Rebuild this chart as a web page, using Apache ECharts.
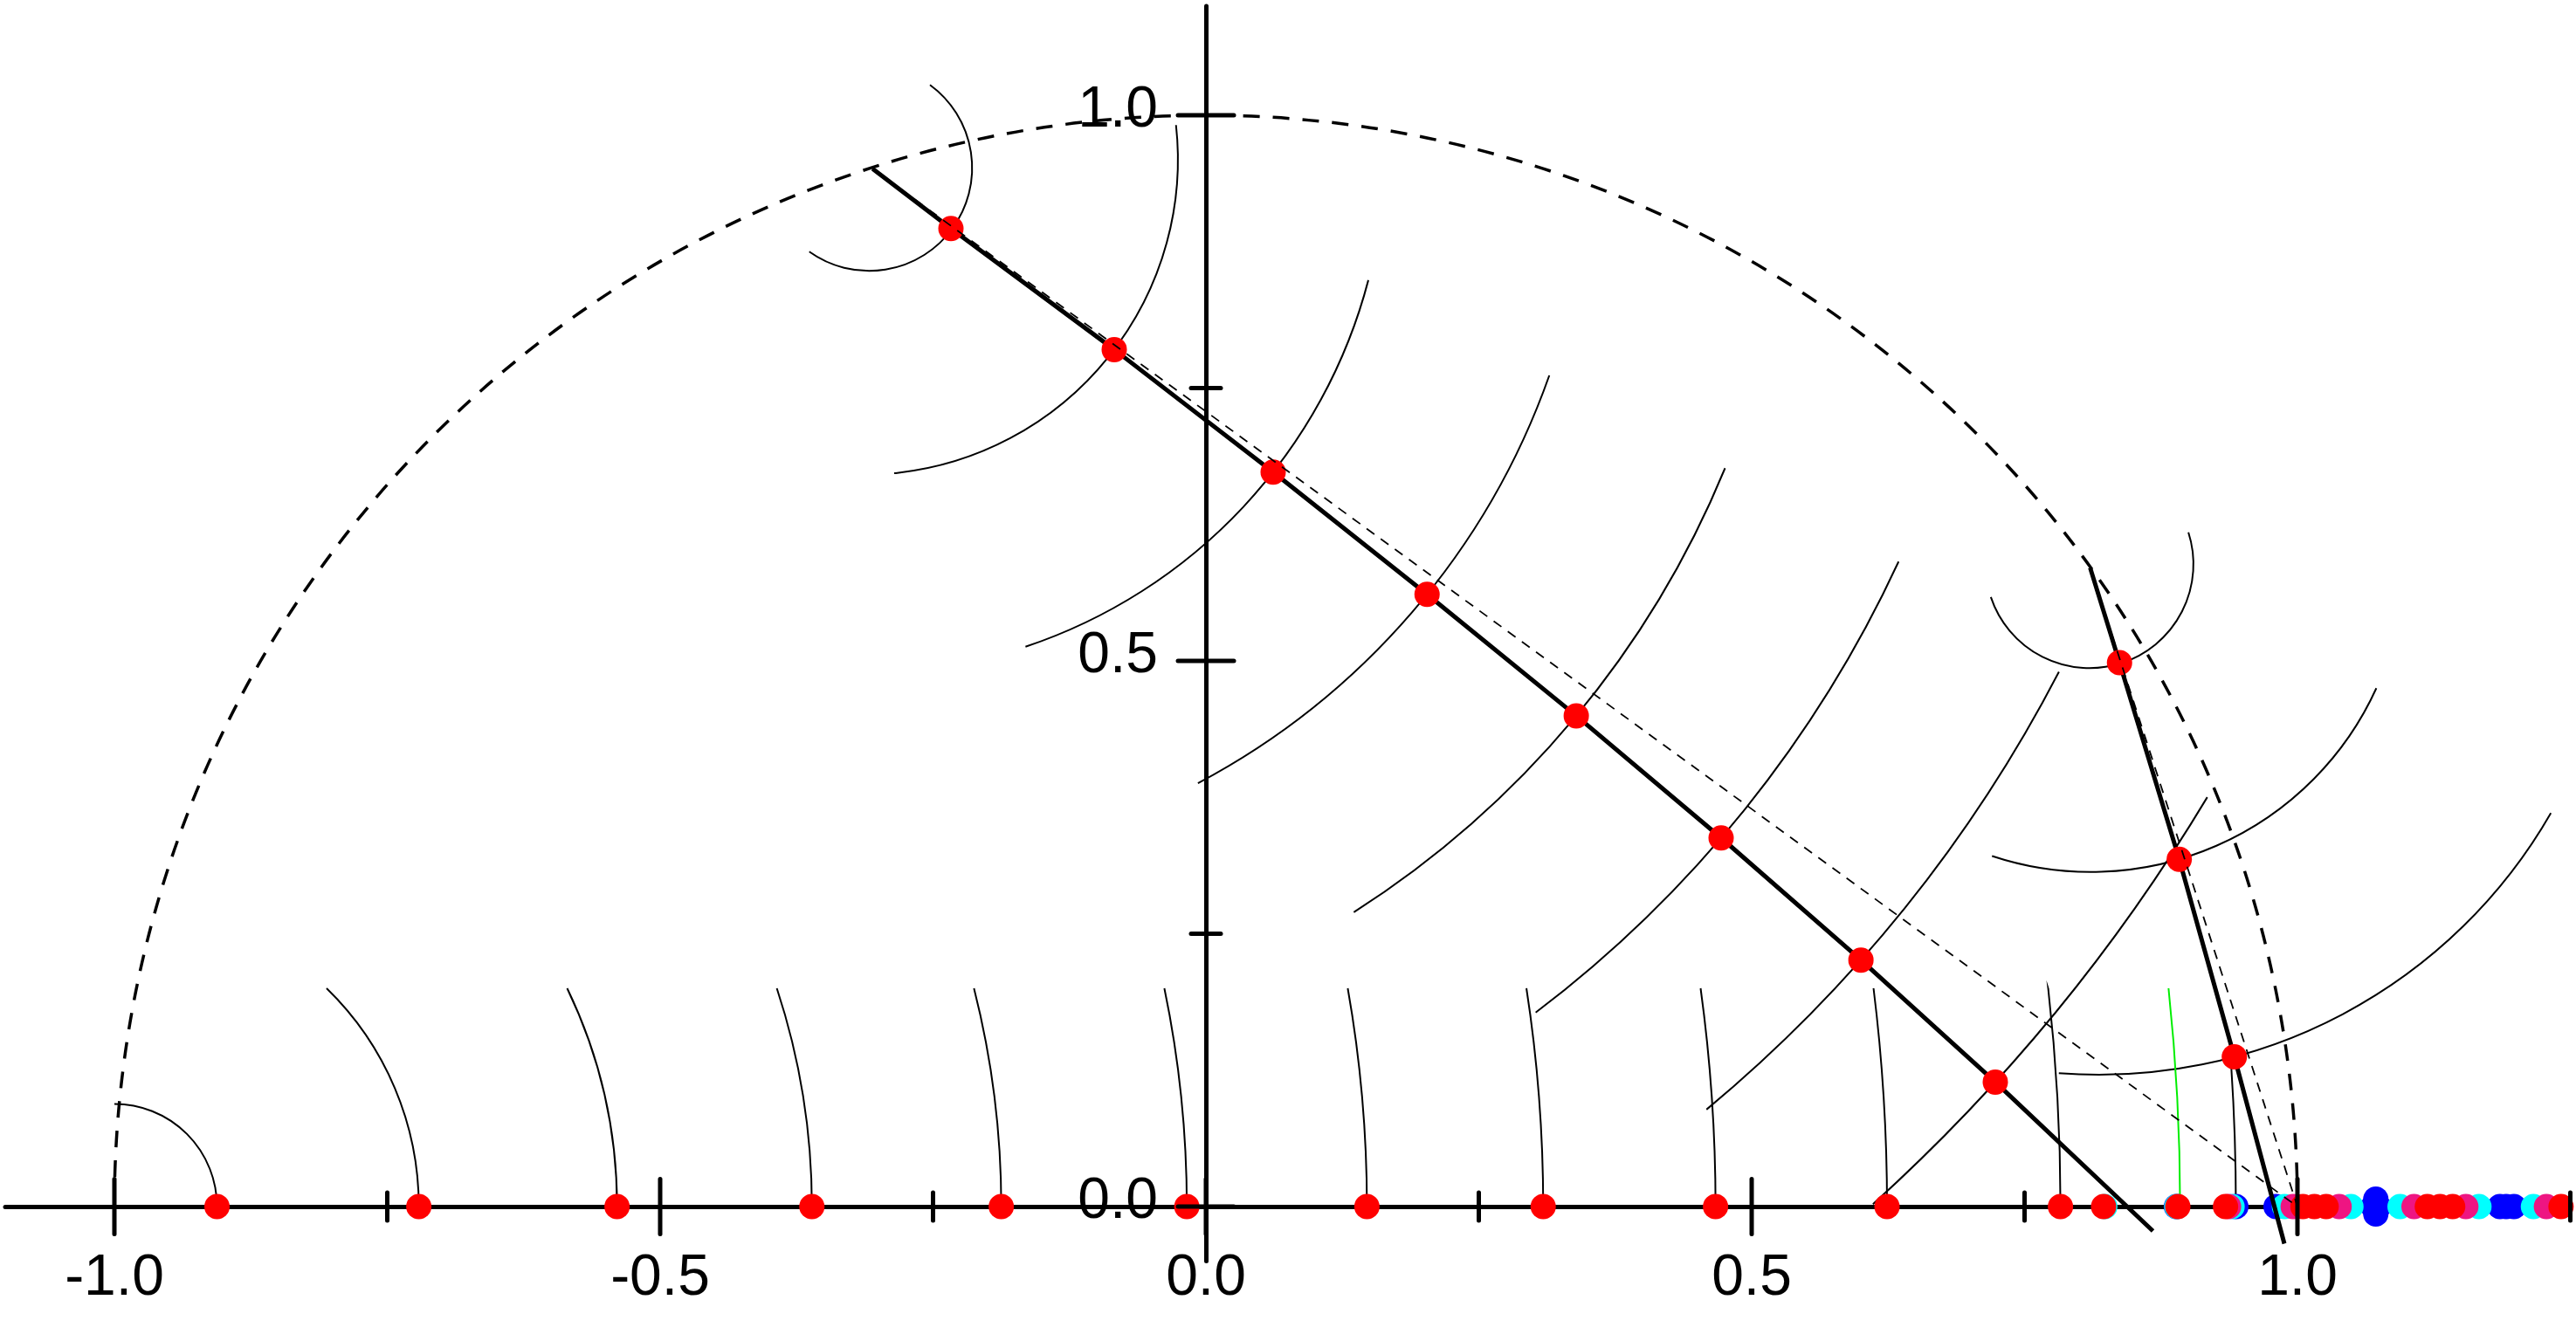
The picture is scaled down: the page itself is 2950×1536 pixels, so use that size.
<!DOCTYPE html>
<html>
<head>
<meta charset="utf-8">
<script src="https://cdn.jsdelivr.net/npm/echarts/dist/echarts.min.js"></script>
<style>
html,body{margin:0;padding:0;background:#ffffff;}
#chart{width:2950px;height:1536px;}
</style>
</head>
<body>
<div id="chart"></div>
<script>
// ---------- axis ticks and labels ----------
const xLabelValues = [-1.0, -0.5, 0.0, 0.5, 1.0];
const yLabelValues = [0.0, 0.5, 1.0];
const xMajorTicks = [-1.0, -0.5, 0.0, 0.5, 1.0];
const xMinorTicks = [-0.75, -0.25, 0.25, 0.75, 1.25];
const yMajorTicks = [0.0, 0.5, 1.0];
const yMinorTicks = [0.25, 0.75];

// ---------- unit circle ----------
const unitCircleRadius = [1.0];

// ---------- thick path A (start on circle, red points, end) ----------
const pathAX = [-0.3054, -0.2336, -0.0840, 0.0616, 0.2026, 0.3393, 0.4720, 0.6001, 0.7232, 0.8676];
const pathAY = [0.9510, 0.8962, 0.7853, 0.6730, 0.5610, 0.4497, 0.3378, 0.2259, 0.1141, -0.0224];
// ---------- thick path B ----------
const pathBX = [0.8101, 0.8370, 0.8917, 0.9422, 0.9880];
const pathBY = [0.5853, 0.4984, 0.3182, 0.1372, -0.0340];
// chords end point
const chordEnd = [1.0, 0.0];

// ---------- arcs around path A (start, middle, end read points) ----------
const arcAStartX = [-0.2528, -0.0274, 0.1488, 0.3146, 0.4756, 0.6346, 0.7815, 0.9174];
const arcAStartY = [1.0278, 0.9910, 0.8489, 0.7616, 0.6766, 0.5910, 0.4900, 0.3751];
const arcAMidX   = [-0.2142, -0.0840, 0.0616, 0.2026, 0.3393, 0.4720, 0.6001, 0.7232];
const arcAMidY   = [0.9536, 0.7853, 0.6730, 0.5610, 0.4497, 0.3378, 0.2259, 0.1141];
const arcAEndX   = [-0.3634, -0.2856, -0.1653, -0.0073, 0.1355, 0.3021, 0.4586, 0.6111];
const arcAEndY   = [0.8750, 0.6720, 0.5130, 0.3879, 0.2697, 0.1778, 0.0889, 0.0022];

// ---------- arcs around path B ----------
const arcBStartX = [0.7191, 0.7202, 0.7814];
const arcBStartY = [0.5585, 0.3212, 0.1222];
const arcBMidX   = [0.8121, 0.8917, 0.9422];
const arcBMidY   = [0.4934, 0.3182, 0.1372];
const arcBEndX   = [0.9001, 1.0723, 1.2322];
const arcBEndY   = [0.6178, 0.4750, 0.3606];

// ---------- arcs rising from axis points (centre at -1,0) ----------
const axisArcCenter = [-1.0, 0.0];
const axisArcX   = [-0.906, -0.7211, -0.5395, -0.361, -0.1875, -0.0175, 0.1475, 0.309, 0.4669, 0.624, 0.7829, 0.9436];
const axisArcTop = [0.2, 0.2, 0.2, 0.2, 0.2, 0.2, 0.2, 0.2, 0.2, 0.2, 0.2, 0.128];
const greenArcX   = [0.8925];
const greenArcTop = [0.2];

// ---------- points on the x axis ----------
const redAxisX  = [-0.906, -0.7211, -0.5395, -0.361, -0.1875, -0.0175, 0.1475, 0.309, 0.4669, 0.624, 0.7829, 0.8224, 0.8904, 0.9341, 1.005, 1.0155, 1.0263, 1.119, 1.1306, 1.1422, 1.2415];
const pinkAxisX = [0.9369, 0.9961, 1.0382, 1.1068, 1.1543, 1.2281];
const cyanAxisX = [0.8235, 0.8895, 0.9401, 0.9881, 1.049, 1.094, 1.1663, 1.2162];
const blueAxisX = [0.8891, 0.9436, 0.9804, 1.0718, 1.0718, 1.0694, 1.0742, 1.1855, 1.1912, 1.1983];
const blueAxisY = [0, 0, 0, 0.0068, -0.0068, 0, 0, 0, 0, 0];

const RED = '#ff0000', PINK = '#ee1582', CYAN = '#00ffff', BLUE = '#0000ff', GREEN = '#00ee00';
const FONT = "'Liberation Sans', Arial, sans-serif";

const chart = echarts.init(document.getElementById('chart'), null, {renderer: 'canvas', width: 2950, height: 1536});

function pairs(xs, ys) { return xs.map((v, i) => [v, ys[i]]); }

function arc3Series(sx, sy, mx, my, ex, ey, color, width, z) {
  return {
    type: 'custom', coordinateSystem: 'cartesian2d', silent: true, z: z,
    clip: false,
    data: sx.map((v, i) => [v, sy[i], mx[i], my[i], ex[i], ey[i]]),
    encode: {x: 0, y: 1},
    renderItem: function (params, api) {
      const p1 = api.coord([api.value(0), api.value(1)]);
      const p2 = api.coord([api.value(2), api.value(3)]);
      const p3 = api.coord([api.value(4), api.value(5)]);
      const ax = p1[0], ay = p1[1], bx = p2[0], by = p2[1], cx = p3[0], cy = p3[1];
      const d = 2 * (ax * (by - cy) + bx * (cy - ay) + cx * (ay - by));
      const a2s = ax * ax + ay * ay, b2s = bx * bx + by * by, c2s = cx * cx + cy * cy;
      const ux = (a2s * (by - cy) + b2s * (cy - ay) + c2s * (ay - by)) / d;
      const uy = (a2s * (cx - bx) + b2s * (ax - cx) + c2s * (bx - ax)) / d;
      const r = Math.hypot(ax - ux, ay - uy);
      const TAU = Math.PI * 2;
      const mod = v => ((v % TAU) + TAU) % TAU;
      const a1 = Math.atan2(ay - uy, ax - ux);
      const am = Math.atan2(by - uy, bx - ux);
      const a3 = Math.atan2(cy - uy, cx - ux);
      const d13 = mod(a3 - a1), d12 = mod(am - a1);
      let s, e;
      if (d12 < d13) { s = a1; e = a1 + d13; } else { s = a3; e = a3 + (TAU - d13); }
      return {
        type: 'arc',
        shape: {cx: ux, cy: uy, r: r, startAngle: s, endAngle: e, clockwise: true},
        style: {stroke: color, fill: 'none', lineWidth: width}
      };
    }
  };
}

function axisArcSeries(xs, tops, color, z) {
  return {
    type: 'custom', coordinateSystem: 'cartesian2d', silent: true, z: z, clip: false,
    data: xs.map((v, i) => [v, tops[i]]),
    encode: {x: 0, y: 1},
    renderItem: function (params, api) {
      const c = api.coord(axisArcCenter);
      const p = api.coord([api.value(0), 0]);
      const t = api.coord([api.value(0), api.value(1)]);
      const r = p[0] - c[0];
      const h = c[1] - t[1];
      const ang = Math.asin(Math.min(1, h / r));
      return {
        type: 'arc',
        shape: {cx: c[0], cy: c[1], r: r, startAngle: -ang, endAngle: 0, clockwise: true},
        style: {stroke: color, fill: 'none', lineWidth: 2}
      };
    }
  };
}

function tickSeries(values, isX, half) {
  return {
    type: 'custom', coordinateSystem: 'cartesian2d', silent: true, z: 8, clip: false,
    data: values.map(v => isX ? [v, 0] : [0, v]),
    encode: {x: 0, y: 1},
    renderItem: function (params, api) {
      const p = api.coord([api.value(0), api.value(1)]);
      const shape = isX
        ? {x1: p[0], y1: p[1] - half, x2: p[0], y2: p[1] + half}
        : {x1: p[0] - half, y1: p[1], x2: p[0] + half, y2: p[1]};
      return {type: 'line', shape: shape, style: {stroke: '#000', lineWidth: 5, lineCap: 'round'}};
    }
  };
}

function labelSeries(values, isX) {
  return {
    type: 'custom', coordinateSystem: 'cartesian2d', silent: true, z: 9, clip: false,
    data: values.map(v => isX ? [v, 0] : [0, v]),
    encode: {x: 0, y: 1},
    renderItem: function (params, api) {
      const v = isX ? api.value(0) : api.value(1);
      const p = api.coord([api.value(0), api.value(1)]);
      return {
        type: 'text',
        x: isX ? p[0] : p[0] - 55,
        y: isX ? p[1] + 83 : p[1] - 5,
        style: {
          text: v.toFixed(1), fill: '#000', fontSize: 66, fontFamily: FONT,
          align: isX ? 'center' : 'right', verticalAlign: 'middle'
        }
      };
    }
  };
}

function scatterSeries(data, color, z) {
  return {
    type: 'scatter', silent: true, z: z, symbol: 'circle', symbolSize: 29,
    data: data, itemStyle: {color: color, opacity: 1}
  };
}

const lineAData = pairs(pathAX, pathAY);
const lineBData = pairs(pathBX, pathBY);

const option = {
  animation: false,
  backgroundColor: '#ffffff',
  grid: {left: 6, top: 7, width: 2937.5, height: 1437.5, containLabel: false, outerBoundsMode: 'none'},
  xAxis: {
    type: 'value', min: -1.1, max: 1.25,
    axisLine: {show: true, onZero: true, lineStyle: {color: '#000', width: 5}},
    axisTick: {show: false},
    splitLine: {show: false},
    axisLabel: {show: false}
  },
  yAxis: {
    type: 'value', min: -0.05, max: 1.1,
    axisLine: {show: true, onZero: true, lineStyle: {color: '#000', width: 5}},
    axisTick: {show: false},
    splitLine: {show: false},
    axisLabel: {show: false}
  },
  series: [
    // unit circle (dashed upper half)
    {
      type: 'custom', coordinateSystem: 'cartesian2d', silent: true, z: 2, clip: false,
      data: unitCircleRadius.map(r => [0, 0, r]),
      encode: {x: 0, y: 1},
      renderItem: function (params, api) {
        const c = api.coord([0, 0]);
        const e = api.coord([api.value(2), 0]);
        return {
          type: 'arc',
          shape: {cx: c[0], cy: c[1], r: e[0] - c[0], startAngle: Math.PI, endAngle: 2 * Math.PI, clockwise: true},
          style: {stroke: '#000', fill: 'none', lineWidth: 3.5, lineDash: [19, 15]}
        };
      }
    },
    arc3Series(arcAStartX, arcAStartY, arcAMidX, arcAMidY, arcAEndX, arcAEndY, '#000', 2, 2),
    arc3Series(arcBStartX, arcBStartY, arcBMidX, arcBMidY, arcBEndX, arcBEndY, '#000', 2, 2),
    axisArcSeries(axisArcX, axisArcTop, '#000', 2),
    axisArcSeries(greenArcX, greenArcTop, GREEN, 2),
    // axis points (z order blue < cyan < pink < red)
    scatterSeries(pairs(blueAxisX, blueAxisY), BLUE, 3),
    scatterSeries(cyanAxisX.map(v => [v, 0]), CYAN, 3),
    scatterSeries(pinkAxisX.map(v => [v, 0]), PINK, 3),
    scatterSeries(redAxisX.map(v => [v, 0]), RED, 3),
    // thick paths
    {type: 'line', silent: true, z: 4, data: lineAData, showSymbol: false, symbol: 'none',
      lineStyle: {color: '#000', width: 5}},
    {type: 'line', silent: true, z: 4, data: lineBData, showSymbol: false, symbol: 'none',
      lineStyle: {color: '#000', width: 5}},
    // red points on paths
    scatterSeries(lineAData.slice(1, lineAData.length - 1), RED, 5),
    scatterSeries(lineBData.slice(1, lineBData.length - 1), RED, 5),
    // thin dashed chords
    {type: 'line', silent: true, z: 6, data: [lineAData[0], chordEnd], showSymbol: false, symbol: 'none',
      lineStyle: {color: '#000', width: 1.8, type: [11, 9]}},
    {type: 'line', silent: true, z: 6, data: [lineBData[0], chordEnd], showSymbol: false, symbol: 'none',
      lineStyle: {color: '#000', width: 1.8, type: [11, 9]}},
    // ticks crossing the axes
    tickSeries(xMajorTicks, true, 31.5),
    tickSeries(xMinorTicks, true, 16),
    tickSeries(yMajorTicks, false, 32),
    tickSeries(yMinorTicks, false, 17),
    // tick labels
    labelSeries(xLabelValues, true),
    labelSeries(yLabelValues, false)
  ]
};
chart.setOption(option);
</script>
</body>
</html>
